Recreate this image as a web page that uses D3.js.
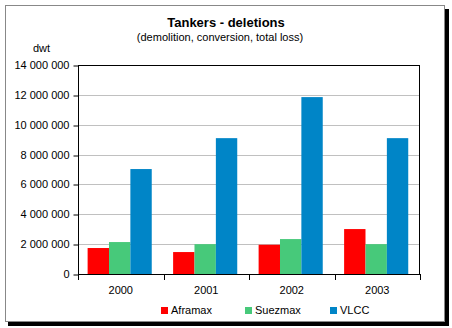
<!DOCTYPE html>
<html><head><meta charset="utf-8">
<script src="https://cdn.jsdelivr.net/npm/d3@7"></script>
<style>body{margin:0;background:#fff}svg{display:block;font-family:"Liberation Sans",Arial,sans-serif}</style>
</head><body>
<script>
const categories = ["2000","2001","2002","2003"];
const seriesNames = ["Aframax","Suezmax","VLCC"];
const aframax = [1740000, 1470000, 1960000, 3010000];
const suezmax = [2140000, 2000000, 2340000, 2000000];
const vlcc = [7030000, 9100000, 11850000, 9100000];
const colors = ["#ff0000","#47c97a","#0085c7"];
const yTicks = [0,2000000,4000000,6000000,8000000,10000000,12000000,14000000];

const W=452,H=328;
const svg=d3.select("body").append("svg").attr("width",W).attr("height",H);
// shadow + frame
svg.append("rect").attr("x",8).attr("y",9).attr("width",441).attr("height",317).attr("fill","#000");
svg.append("rect").attr("x",5.5).attr("y",5.5).attr("width",439).attr("height",316).attr("fill","#fff").attr("stroke","#888").attr("stroke-width",1);

const L=78,R=420,T=65,B=274;
const x=d3.scaleBand().domain(categories).range([L,R]).paddingInner(0).paddingOuter(0);
const y=d3.scaleLinear().domain([0,14000000]).range([B,T]);

// gridlines
svg.append("g").selectAll("line").data(yTicks.filter(d=>d>0&&d<14000000)).join("line")
 .attr("x1",L).attr("x2",R).attr("y1",d=>Math.round(y(d))+0.5).attr("y2",d=>Math.round(y(d))+0.5)
 .attr("stroke","#c0c0c0");

const data=[aframax,suezmax,vlcc];
const bw=x.bandwidth()/4;
seriesNames.forEach((s,i)=>{
  svg.append("g").selectAll("rect").data(categories).join("rect")
   .attr("x",(c)=>x(c)+bw*0.45+i*bw)
   .attr("width",bw)
   .attr("y",(c,j)=>y(data[i][j]))
   .attr("height",(c,j)=>B-y(data[i][j]))
   .attr("fill",colors[i]);
});

// plot border
svg.append("rect").attr("x",L+0.5).attr("y",T+0.5).attr("width",R-L-1).attr("height",B-T).attr("fill","none").attr("stroke","#000");

// y axis
const ya=svg.append("g").attr("transform",`translate(${L+0.5},0)`)
 .call(d3.axisLeft(y).tickValues(yTicks).tickSize(5).tickPadding(4)
   .tickFormat(d=>d3.format(",")(d).replace(/,/g," ")));
ya.select(".domain").remove();
ya.selectAll("line").attr("stroke","#000").attr("transform",d=>`translate(0,${Math.round(y(d))+0.5-y(d)})`);
ya.selectAll("text").attr("font-size",11).attr("fill","#000").attr("font-family","Liberation Sans, Arial, sans-serif");

// x axis
const xa=svg.append("g").attr("transform",`translate(0,${B+0.5})`)
 .call(d3.axisBottom(x).tickSize(0).tickPadding(12));
xa.select(".domain").remove();
xa.selectAll("text").attr("font-size",11).attr("fill","#000").attr("font-family","Liberation Sans, Arial, sans-serif");
svg.append("g").selectAll("line").data(d3.range(categories.length+1)).join("line")
 .attr("x1",i=>Math.round(L+i*x.bandwidth())+0.5).attr("x2",i=>Math.round(L+i*x.bandwidth())+0.5)
 .attr("y1",B).attr("y2",B+6).attr("stroke","#000");

// titles
svg.append("text").attr("x",226).attr("y",27).attr("text-anchor","middle").attr("font-weight","bold").attr("font-size",13).text("Tankers - deletions");
svg.append("text").attr("x",220).attr("y",41).attr("text-anchor","middle").attr("font-size",11).text("(demolition, conversion, total loss)");
svg.append("text").attr("x",33).attr("y",52).attr("font-size",11).text("dwt");

// legend
const lx=[161,245,330];
seriesNames.forEach((s,i)=>{
  svg.append("rect").attr("x",lx[i]).attr("y",307).attr("width",7).attr("height",7).attr("fill",colors[i]);
  svg.append("text").attr("x",lx[i]+10).attr("y",314).attr("font-size",11).text(s);
});
</script>
</body></html>
